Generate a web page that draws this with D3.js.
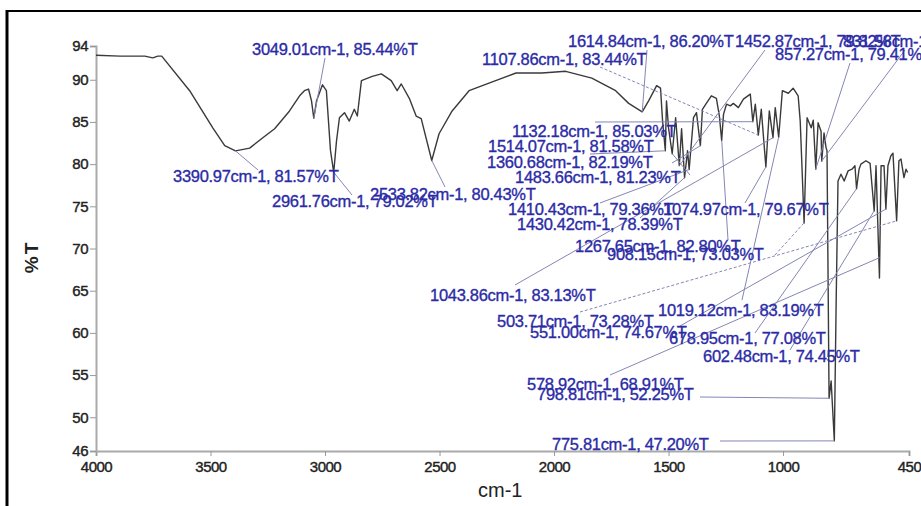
<!DOCTYPE html>
<html>
<head>
<meta charset="utf-8">
<script src="https://cdn.jsdelivr.net/npm/d3@7"></script>
<style>
  body { margin: 0; background: #fff; }
  svg { display: block; font-family: "Liberation Sans", Arial, sans-serif; }
</style>
</head>
<body>
<svg id="chart" width="921" height="506"></svg>
<script>
// spectrum trace (cm-1, %T)
var wavenumbers = [4000, 3895, 3787, 3752, 3730, 3713, 3591, 3490, 3438, 3391,
  3329, 3273, 3220, 3155, 3111, 3090, 3072, 3059, 3049, 3037,
  3011, 2994, 2976, 2962, 2950, 2937, 2915, 2894, 2872, 2859,
  2841, 2794, 2754, 2711, 2685, 2667, 2632, 2602, 2580, 2534,
  2502, 2445, 2371, 2284, 2166, 2053, 1949, 1835, 1731, 1674,
  1615, 1587, 1552, 1535, 1526, 1514, 1509, 1500, 1484, 1469,
  1453, 1443, 1430, 1417, 1410, 1391, 1378, 1361, 1352, 1335,
  1313, 1291, 1278, 1268, 1260, 1247, 1230, 1217, 1195, 1173,
  1143, 1132, 1121, 1108, 1095, 1075, 1060, 1044, 1034, 1019,
  1003, 977, 956, 934, 925, 908, 895, 877, 868, 857,
  847, 834, 831, 821, 812, 808, 799, 790, 776, 768,
  760, 747, 733, 716, 699, 686, 679, 668, 660, 638,
  620, 602, 594, 579, 572, 559, 551, 542, 529, 520,
  504, 494, 485, 472, 463, 456];
var transmittance = [92.9, 92.8, 92.8, 92.6, 92.8, 92.8, 88.7, 84.3, 82.2, 81.57,
  81.9, 83.1, 84.2, 86.3, 88.1, 88.7, 88.9, 87.5, 85.44, 87.5,
  89.4, 88.7, 81.6, 79.02, 82.7, 85.5, 86.1, 85.1, 86.5, 85.7,
  89.9, 90.4, 90.7, 89.9, 88.7, 89.5, 87.8, 85.7, 85.4, 80.43,
  83.6, 86.3, 88.7, 89.6, 90.8, 90.8, 91.0, 90.2, 88.7, 87.2,
  86.2, 87.5, 89.3, 89.0, 85.1, 81.58, 87.5, 84.3, 81.23, 85.5,
  79.82, 84.2, 78.39, 81.6, 79.36, 85.5, 86.1, 82.19, 86.5, 87.2,
  88.1, 87.8, 85.7, 82.8, 85.9, 87.1, 86.9, 87.2, 86.7, 87.7,
  88.3, 85.03, 87.1, 83.44, 86.5, 79.67, 86.3, 83.13, 86.7, 83.19,
  88.7, 88.4, 89.0, 88.1, 85.1, 73.03, 85.5, 84.3, 85.2, 79.41,
  84.9, 83.9, 80.35, 83.7, 81.9, 81.6, 52.25, 54.3, 47.2, 63.8,
  78.0, 78.8, 78.0, 79.2, 79.4, 79.8, 77.08, 79.4, 80.0, 80.4,
  80.1, 74.45, 79.8, 66.5, 79.8, 79.8, 74.67, 79.8, 81.0, 81.3,
  73.28, 80.4, 80.6, 78.4, 79.4, 79.0];

// picked peaks as printed on the chart
var peakWn = [3049.01, 3390.97, 2961.76, 2533.82, 1614.84, 1452.87, 831.58, 857.27, 1107.86,
  1132.18, 1514.07, 1360.68, 1483.66, 1410.43, 1074.97, 1430.42, 1267.65, 908.15,
  1043.86, 1019.12, 503.71, 551.00, 678.95, 602.48, 578.92, 798.81, 775.81];
var peakT = [85.44, 81.57, 79.02, 80.43, 86.20, 79.82, 80.35, 79.41, 83.44,
  85.03, 81.58, 82.19, 81.23, 79.36, 79.67, 78.39, 82.80, 73.03,
  83.13, 83.19, 73.28, 74.67, 77.08, 74.45, 68.91, 52.25, 47.20];

var xTicks = [4000, 3500, 3000, 2500, 2000, 1500, 1000, 450];
var yTicks = [94, 90, 85, 80, 75, 70, 65, 60, 55, 50, 46];

// label layout: text x, baseline, leader end x, leader end y, dashed
var labelPos = [
  [252, 55, 325, 58, 0], [173, 182, 258, 170, 0], [272, 207, 352, 195, 0], [370, 200, 445, 187, 0],
  [568, 47, 647, 50, 0], [735, 47, 765, 50, 0], [843, 47, 905, 50, 0], [775, 60, 850, 63, 0],
  [482, 65, 600, 67, 1], [512, 137, 595, 122, 0], [488, 152, 590, 154, 0], [487, 168, 672, 163, 0],
  [515, 183, 690, 175, 0], [508, 215, 600, 203, 0], [663, 215, 745, 203, 0], [517, 230, 640, 218, 0],
  [575, 252, 728, 240, 0], [607, 260, 775, 255, 1], [430, 301, 515, 285, 0], [658, 316, 742, 300, 0],
  [497, 327, 580, 312, 1], [530, 338, 680, 326, 0], [669, 344, 755, 333, 0], [703, 362, 790, 350, 0],
  [527, 390, 610, 375, 0], [537, 400, 700, 397, 0], [552, 450, 720, 441, 0]
];

var svg = d3.select("#chart");

var x = d3.scaleLinear().domain([4000, 450]).range([96, 909]);
var y = d3.scaleLinear().domain([46, 94]).range([451, 46]);

// frame
svg.append("line").attr("x1", 6).attr("x2", 921).attr("y1", 11).attr("y2", 11)
    .attr("stroke", "#000").attr("stroke-width", 2);
svg.append("line").attr("x1", 7).attr("x2", 7).attr("y1", 10).attr("y2", 506)
    .attr("stroke", "#000").attr("stroke-width", 3);

// axes
var xAxis = svg.append("g")
    .attr("transform", "translate(0,451)")
    .call(d3.axisBottom(x).tickValues(xTicks).tickSize(5).tickPadding(3).tickFormat(d3.format("d")));
var yAxis = svg.append("g")
    .attr("transform", "translate(96,0)")
    .call(d3.axisLeft(y).tickValues(yTicks).tickSize(6).tickPadding(2).tickFormat(d3.format("d")));

[xAxis, yAxis].forEach(function(a) {
  a.select(".domain").attr("stroke", "#aaa").attr("stroke-width", 2);
  a.selectAll(".tick line").attr("stroke", "#999");
  a.selectAll(".tick text")
      .attr("fill", "#222")
      .attr("stroke", "#222").attr("stroke-width", 0.4)
      .style("font-size", "15px")
      .style("letter-spacing", "-0.5px")
      .style("font-family", "'Liberation Sans', Arial, sans-serif");
});
xAxis.selectAll(".tick text").attr("dy", "0.85em");

svg.append("text")
    .attr("transform", "translate(38,257) rotate(-90)")
    .attr("text-anchor", "middle")
    .attr("fill", "#222")
    .style("font-size", "19px").style("font-weight", "bold").style("letter-spacing", "2px")
    .text("%T");
svg.append("text")
    .attr("x", 478).attr("y", 497)
    .attr("fill", "#222")
    .style("font-size", "20px")
    .text("cm-1");

// spectrum
var pts = wavenumbers.map(function(w, i) { return [w, transmittance[i]]; });
var line = d3.line()
    .x(function(d) { return x(d[0]); })
    .y(function(d) { return y(d[1]); });

svg.append("path")
    .datum(pts)
    .attr("d", line)
    .attr("fill", "none")
    .attr("stroke", "#3a3a3a")
    .attr("stroke-width", 1.4)
    .attr("stroke-linejoin", "round");

// peak leaders + labels
var peaks = peakWn.map(function(w, i) {
  return { wn: w, t: peakT[i], pos: labelPos[i] };
});

svg.append("g").selectAll("line")
    .data(peaks)
    .enter().append("line")
      .attr("x1", function(d) { return d.pos[2]; })
      .attr("y1", function(d) { return d.pos[3]; })
      .attr("x2", function(d) { return x(d.wn); })
      .attr("y2", function(d) { return y(d.t); })
      .attr("stroke", "#8486b4")
      .attr("stroke-width", 1)
      .attr("stroke-dasharray", function(d) { return d.pos[4] ? "3,2" : null; });

svg.append("g").selectAll("text")
    .data(peaks)
    .enter().append("text")
      .attr("x", function(d) { return d.pos[0]; })
      .attr("y", function(d) { return d.pos[1]; })
      .attr("fill", "#2b2ba6")
      .attr("stroke", "#2b2ba6").attr("stroke-width", 0.35)
      .style("font-size", "16.5px")
      .style("letter-spacing", "-0.3px")
      .text(function(d) { return d.wn.toFixed(2) + "cm-1, " + d.t.toFixed(2) + "%T"; });
</script>
</body>
</html>
